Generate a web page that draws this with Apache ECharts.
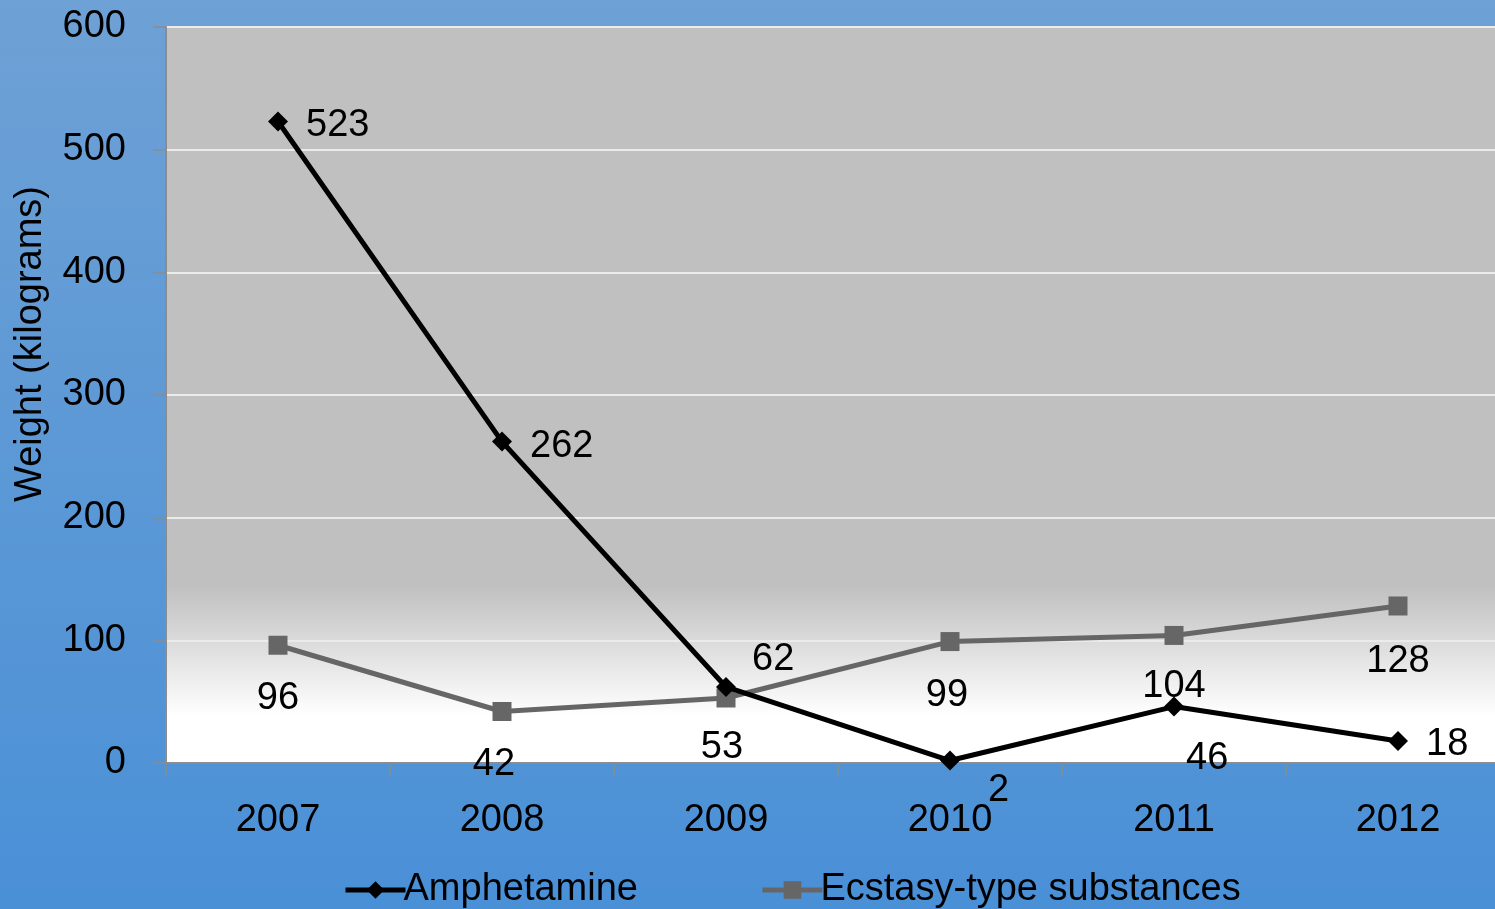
<!DOCTYPE html>
<html>
<head>
<meta charset="utf-8">
<script src="https://cdn.jsdelivr.net/npm/echarts@6/dist/echarts.min.js"></script>
<style>html,body{margin:0;padding:0;overflow:hidden}#c{width:1495px;height:909px}</style>
</head>
<body>
<div id="c"></div>
<script>
const years = ['2007','2008','2009','2010','2011','2012'];
const amphetamine = [523, 262, 62, 2, 46, 18];
const ecstasy = [96, 42, 53, 99, 104, 128];
const yTicks = [0, 100, 200, 300, 400, 500, 600];
const yTitle = 'Weight (kilograms)';

const FONT = 'Liberation Sans';
const chart = echarts.init(document.getElementById('c'));

const amphLabelOpts = [
  {position: 'right', distance: 18, offset: [0, 4]},
  {position: 'right', distance: 18, offset: [0, 5]},
  {position: 'right', distance: 16, offset: [0, -27]},
  {position: 'right', distance: 18, offset: [10, 30]},
  {position: 'right', distance: 4, offset: [-2, 52]},
  {position: 'right', distance: 18, offset: [0, 4]}
];
const ecsLabelOpts = [
  {offset: [0, 0]}, {offset: [-8, 0]}, {offset: [-4, -4]}, {offset: [-3, 0]}, {offset: [0, -2]}, {offset: [0, 2]}
];

chart.setOption({
  backgroundColor: new echarts.graphic.LinearGradient(0, 0, 0, 1, [
    {offset: 0, color: '#6ea1d5'},
    {offset: 1, color: '#4a90d7'}
  ]),
  textStyle: {fontFamily: FONT},
  grid: {
    left: 166, top: 27, bottom: 146, width: 1344,
    outerBoundsMode: 'none', containLabel: false,
    show: true, borderWidth: 0,
    backgroundColor: new echarts.graphic.LinearGradient(0, 0, 0, 1, [
      {offset: 0, color: '#c0c0c0'},
      {offset: 0.76, color: '#c0c0c0'},
      {offset: 0.935, color: '#ffffff'},
      {offset: 1, color: '#ffffff'}
    ])
  },
  graphic: [{
    type: 'text', x: 31, y: 344, rotation: Math.PI / 2,
    style: {text: yTitle, font: '38px "' + FONT + '"', fill: '#000', align: 'center', verticalAlign: 'middle'}
  }],
  legend: {
    left: 338, top: 866,
    itemWidth: 60, itemHeight: 22, itemGap: 122,
    lineStyle: {width: 5},
    textStyle: {fontSize: 38, color: '#000', fontFamily: FONT, padding: [0, 0, 0, -7]},
    data: ['Amphetamine', 'Ecstasy-type substances']
  },
  xAxis: {
    type: 'category', data: years, boundaryGap: true,
    axisLine: {lineStyle: {color: '#8c8c8c', width: 2}},
    axisTick: {show: true, length: 13, lineStyle: {color: '#8c8c8c', width: 1.5}},
    axisLabel: {fontSize: 38, color: '#000', margin: 39, fontFamily: FONT}
  },
  yAxis: {
    type: 'value', min: yTicks[0], max: yTicks[yTicks.length - 1], interval: 100,
    axisLine: {show: true, lineStyle: {color: '#8c8c8c', width: 2}},
    axisTick: {show: true, length: 13, lineStyle: {color: '#8c8c8c', width: 1.5}},
    axisLabel: {fontSize: 38, color: '#000', margin: 40, fontFamily: FONT},
    splitLine: {show: true, lineStyle: {color: '#ebebeb', width: 2}}
  },
  series: [
    {
      name: 'Amphetamine', type: 'line',
      data: amphetamine.map((v, i) => ({value: v, label: amphLabelOpts[i]})),
      symbol: 'diamond', symbolSize: 20,
      itemStyle: {color: '#000'},
      lineStyle: {color: '#000', width: 5},
      label: {show: true, fontSize: 38, color: '#000', fontFamily: FONT},
      z: 3
    },
    {
      name: 'Ecstasy-type substances', type: 'line',
      data: ecstasy.map((v, i) => ({value: v, label: ecsLabelOpts[i]})),
      symbol: 'rect', symbolSize: 19,
      itemStyle: {color: '#666666'},
      lineStyle: {color: '#666666', width: 5},
      label: {show: true, position: 'bottom', distance: 25, fontSize: 38, color: '#000', fontFamily: FONT},
      z: 2
    }
  ],
  animation: false
});
</script>
</body>
</html>
